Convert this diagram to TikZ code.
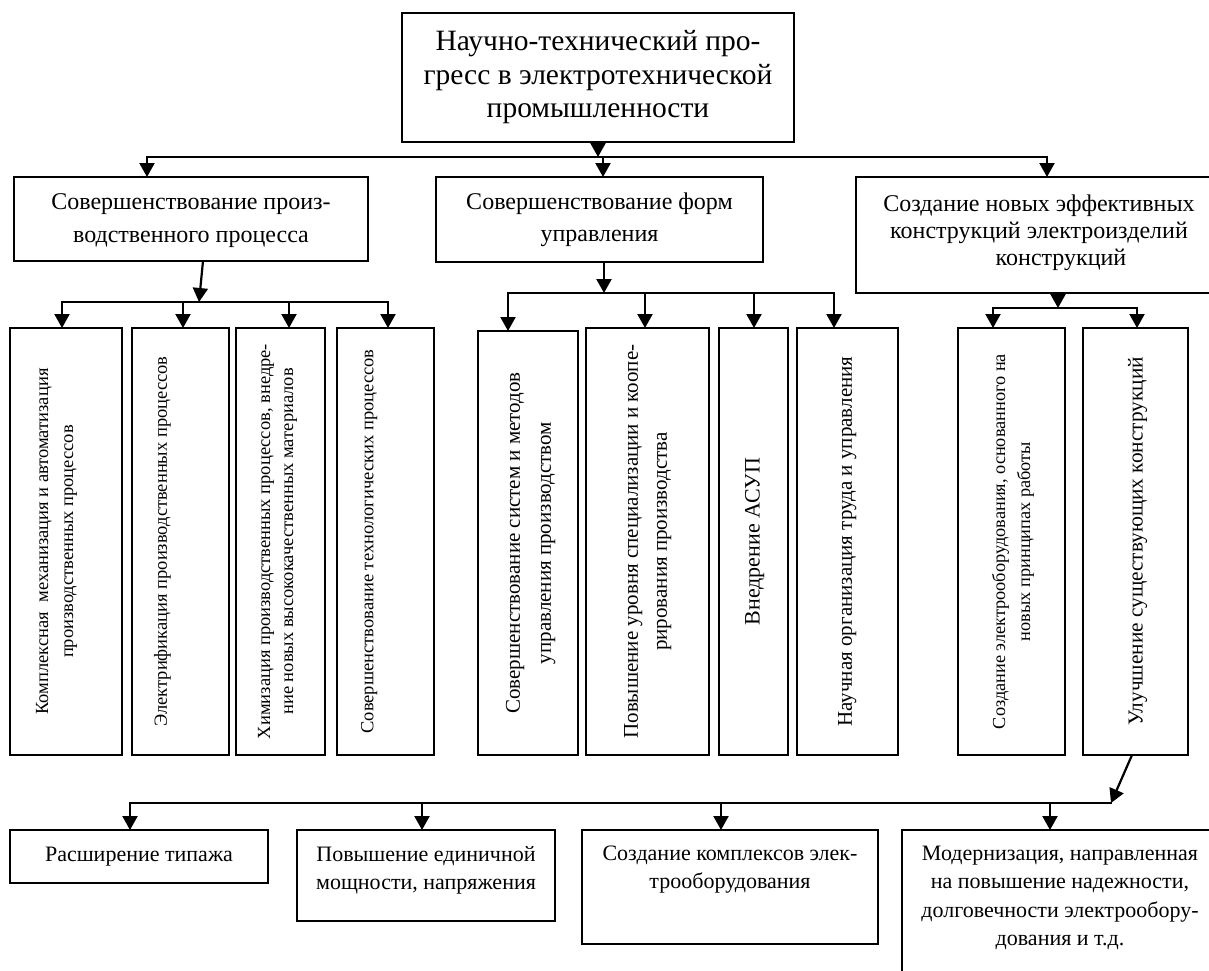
\documentclass[tikz,border=0pt]{standalone}
\usepackage{fontspec}
\setmainfont{Liberation Serif}
\usepackage{graphicx}
\usetikzlibrary{arrows.meta}
\tikzset{
  box/.style={draw, line width=1.6pt, inner sep=0pt, outer sep=0pt, align=center},
  conn/.style={line width=2.2pt, line cap=rect},
  arr/.style={line width=2.2pt, -{Triangle[width=15pt,length=14pt]}},
}
% rotated text: #1 box width, #2 line length, #3 size, #4 skip, #5 pad, #6 text
\newcommand{\vtx}[6]{\rotatebox{90}{\parbox[c][#1pt][t]{#2pt}{\fontsize{#3pt}{#4pt}\selectfont\centering\vspace*{#5pt}#6}}}
% top aligned horizontal text: #1 box height, #2 width, #3 size, #4 skip, #5 pad, #6 text
\newcommand{\htx}[6]{\parbox[c][#1pt][t]{#2pt}{\fontsize{#3pt}{#4pt}\selectfont\centering\vspace*{#5pt}#6}}
\begin{document}
\begin{tikzpicture}[x=1pt,y=-1pt]
\useasboundingbox (0,0) rectangle (1209,970);
\clip (0,0) rectangle (1209,970);

% top
\node[box, minimum width=392pt, minimum height=129pt, font=\fontsize{29.5}{33.5}\selectfont] (top) at (598,77.5)
  {Научно-технический про-\\гресс в электротехнической\\промышленности};

% level 2
\node[box, minimum width=354pt, minimum height=84pt] (s1) at (191,219)
  {\htx{84}{350}{24}{33}{17}{Совершенствование произ-\\водственного процесса}};
\node[box, minimum width=327pt, minimum height=85pt, font=\fontsize{24}{32}\selectfont] (s2) at (599.5,219.5)
  {Совершенствование форм\\управления};
\node[box, minimum width=366pt, minimum height=116pt] (s3) at (1039,235)
  {\htx{116}{360}{24}{27}{18}{Создание новых эффективных\\конструкций электроизделий\\\hspace*{44pt}конструкций}};

% level 3
\node[box, minimum width=112pt, minimum height=427pt] (k1) at (66,541.5)
  {\vtx{112}{420}{18.5}{25}{26}{Комплексная\ \ механизация и автоматизация\\производственных процессов}};
\node[box, minimum width=97pt, minimum height=427pt] (k2) at (180.5,541.5)
  {\vtx{97}{420}{18.5}{25}{22}{Электрификация производственных процессов}};
\node[box, minimum width=89pt, minimum height=427pt] (k3) at (280.5,541.5)
  {\vtx{89}{420}{18.5}{23}{22}{Химизация производственных процессов, внедре-\\ние новых высококачественных материалов}};
\node[box, minimum width=97pt, minimum height=427pt] (k4) at (385.5,541.5)
  {\vtx{97}{420}{18.5}{25}{24}{Совершенствование технологических процессов}};
\node[box, minimum width=100pt, minimum height=424pt] (k5) at (528,543)
  {\vtx{100}{418}{21}{31}{28}{Совершенствование систем и методов\\управления производством}};
\node[box, minimum width=123pt, minimum height=427pt] (k6) at (647.5,541.5)
  {\vtx{123}{420}{21}{29}{38}{Повышение уровня специализации и коопе-\\рирования производства}};
\node[box, minimum width=69pt, minimum height=427pt] (k7) at (753.5,541.5)
  {\vtx{69}{420}{22}{29}{26}{Внедрение АСУП}};
\node[box, minimum width=101pt, minimum height=427pt] (k8) at (847.5,541.5)
  {\vtx{101}{420}{21}{29}{41}{Научная организация труда и управления}};
\node[box, minimum width=107pt, minimum height=427pt] (k9) at (1011.5,541.5)
  {\vtx{107}{420}{18.3}{25}{34}{Создание электрооборудования, основанного на\\новых принципах работы}};
\node[box, minimum width=105pt, minimum height=427pt] (k10) at (1135.5,541.5)
  {\vtx{105}{420}{21.3}{29}{45}{Улучшение существующих конструкций}};

% bottom
\node[box, minimum width=258pt, minimum height=53pt, font=\fontsize{22}{28}\selectfont] (m1) at (139,856.5)
  {Расширение типажа};
\node[box, minimum width=258pt, minimum height=91pt] (m2) at (426,875.5)
  {\htx{91}{252}{22}{28}{16}{Повышение единичной\\мощности, напряжения}};
\node[box, minimum width=296pt, minimum height=114pt] (m3) at (730,887)
  {\htx{114}{290}{22}{28}{16}{Создание комплексов элек-\\трооборудования}};
\node[box, minimum width=316pt, minimum height=170pt] (m4) at (1060,915)
  {\htx{170}{310}{22}{28.5}{16}{Модернизация, направленная\\на повышение надежности,\\долговечности электрообору-\\дования и т.д.}};

% connectors: top level
\coordinate (tA) at (147,157);
\coordinate (tM) at (603,157);
\coordinate (tB) at (1047,157);
\draw[arr] (top.south) -- (top.south |- tA);
\draw[conn] (tA) -- (tB);
\draw[arr] (tA) -- (tA |- s1.north);
\draw[arr] (tM) -- (tM |- s2.north);
\draw[arr] (tB) -- (tB |- s3.north);

% left group
\coordinate (a) at (199,302);
\coordinate (a1) at (62,302);
\coordinate (a2) at (183,302);
\coordinate (a3) at (289,302);
\coordinate (a4) at (388,302);
\draw[arr] ([xshift=12pt]s1.south) -- (a);
\draw[conn] (a1) -- (a4);
\draw[arr] (a1) -- (a1 |- k1.north);
\draw[arr] (a2) -- (a2 |- k2.north);
\draw[arr] (a3) -- (a3 |- k3.north);
\draw[arr] (a4) -- (a4 |- k4.north);

% middle group
\coordinate (b) at (604,293);
\coordinate (b1) at (508,293);
\coordinate (b2) at (645,293);
\coordinate (b3) at (754,293);
\coordinate (b4) at (834,293);
\draw[arr] (s2.south -| b) -- (b);
\draw[conn] (b1) -- (b4);
\draw[arr] (b1) -- (b1 |- k5.north);
\draw[arr] (b2) -- (b2 |- k6.north);
\draw[arr] (b3) -- (b3 |- k7.north);
\draw[arr] (b4) -- (b4 |- k8.north);

% right group
\coordinate (c) at (1058,308);
\coordinate (c1) at (993,308);
\coordinate (c2) at (1137,308);
\draw[arr] (s3.south -| c) -- (c);
\draw[conn] (c1) -- (c2);
\draw[arr] (c1) -- (c1 |- k9.north);
\draw[arr] (c2) -- (c2 |- k10.north);

% bottom group
\coordinate (d) at (1111,803);
\coordinate (d1) at (130,803);
\coordinate (d2) at (422,803);
\coordinate (d3) at (721,803);
\coordinate (d4) at (1050,803);
\draw[arr] ([xshift=-3.5pt]k10.south) -- (d);
\draw[conn] (d1) -- (d);
\draw[arr] (d1) -- (d1 |- m1.north);
\draw[arr] (d2) -- (d2 |- m2.north);
\draw[arr] (d3) -- (d3 |- m3.north);
\draw[arr] (d4) -- (d4 |- m4.north);
\end{tikzpicture}
\end{document}
